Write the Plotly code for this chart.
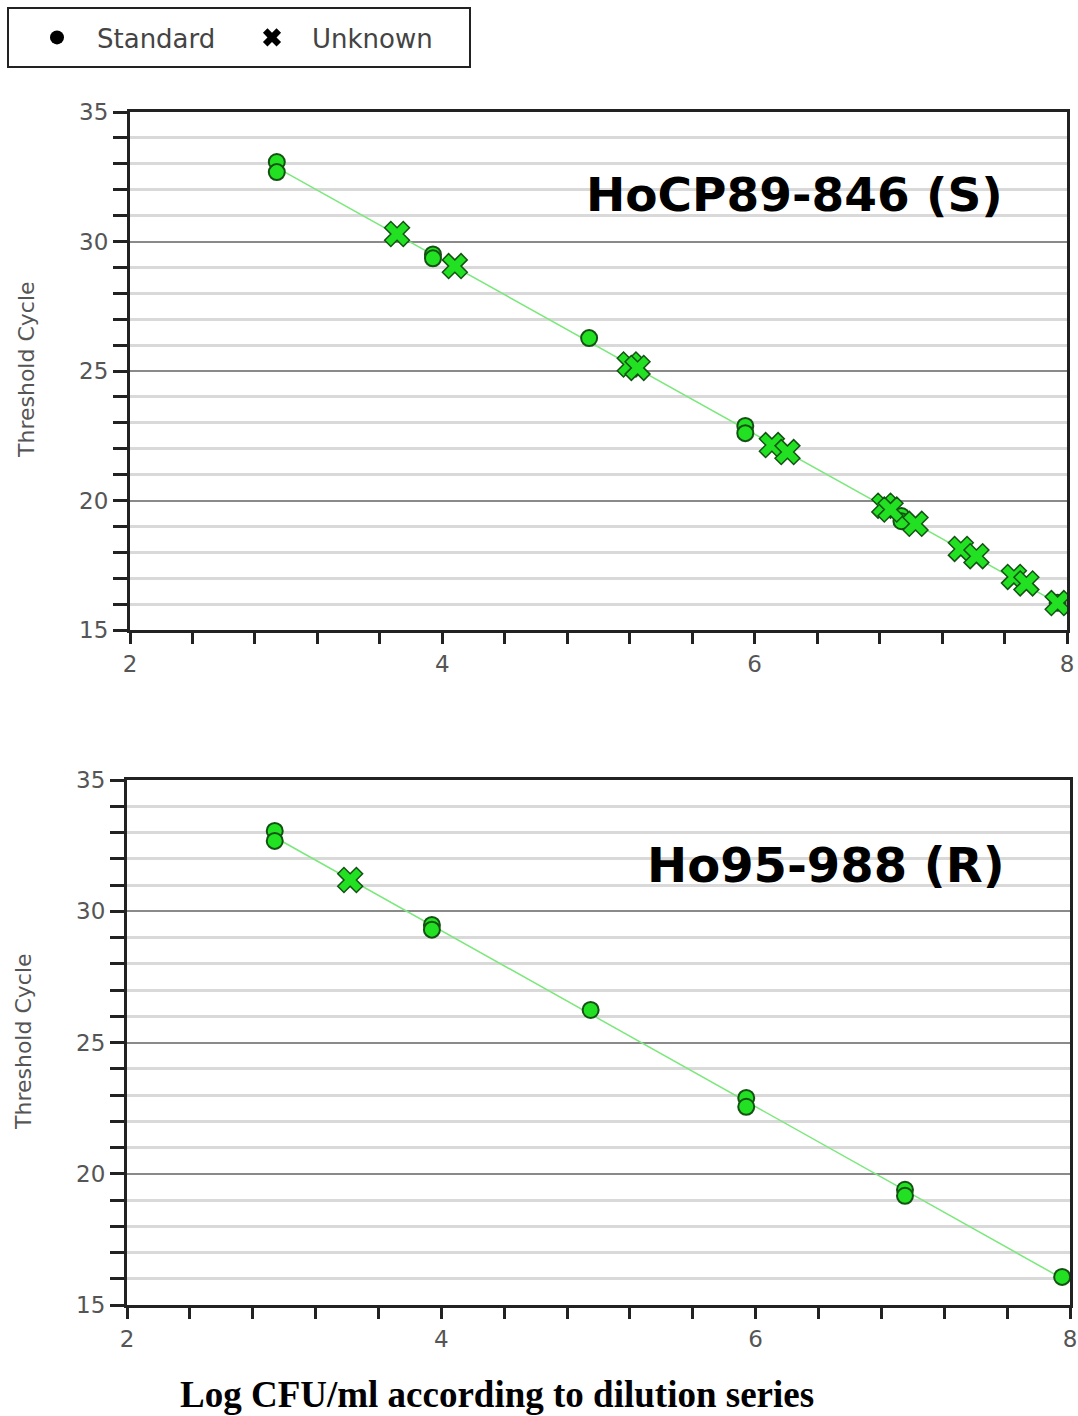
import plotly.graph_objects as go

# ---- data ----
top_std_x = [2.94, 2.94, 3.94, 3.94, 4.94, 5.94, 5.94, 6.94, 6.94, 7.94]
top_std_y = [33.07, 32.68, 29.50, 29.35, 26.27, 22.88, 22.60, 19.40, 19.20, 16.05]
top_unk_x = [3.71, 4.08, 5.20, 5.25, 6.11, 6.21, 6.83, 6.87, 7.03, 7.32, 7.42, 7.66, 7.74, 7.94]
top_unk_y = [30.29, 29.05, 25.25, 25.12, 22.14, 21.87, 19.80, 19.65, 19.10, 18.13, 17.85, 17.05, 16.80, 16.04]
top_fit_x = [2.94, 7.96]
top_fit_y = [32.85, 15.97]

bot_std_x = [2.94, 2.94, 3.94, 3.94, 4.95, 5.94, 5.94, 6.95, 6.95, 7.95]
bot_std_y = [33.06, 32.68, 29.48, 29.30, 26.24, 22.89, 22.55, 19.39, 19.16, 16.07]
bot_unk_x = [3.42]
bot_unk_y = [31.19]
bot_fit_x = [2.94, 7.96]
bot_fit_y = [32.82, 15.98]

panel_labels = ["HoCP89-846 (S)", "Ho95-988 (R)"]
y_title = "Threshold Cycle"
x_title = "Log CFU/ml according to dilution series"
legend_names = ["Standard", "Unknown"]

W, H = 1078, 1416

fig = go.Figure()

fill = "#22e022"
edge = "#145214"
linec = "#7be87b"

def add_panel(xa, ya, fx, fy, sx, sy, ux, uy):
    fig.add_trace(go.Scatter(x=fx, y=fy, mode="lines", line=dict(color=linec, width=1.5),
                             xaxis=xa, yaxis=ya, showlegend=False, hoverinfo="skip"))
    fig.add_trace(go.Scatter(x=sx, y=sy, mode="markers",
                             marker=dict(symbol="circle", size=16, color=fill, line=dict(color=edge, width=2)),
                             xaxis=xa, yaxis=ya, showlegend=False))
    fig.add_trace(go.Scatter(x=ux, y=uy, mode="markers",
                             marker=dict(symbol="x", size=22, color=fill, line=dict(color=edge, width=1.5)),
                             xaxis=xa, yaxis=ya, showlegend=False))

add_panel("x", "y", top_fit_x, top_fit_y, top_std_x, top_std_y, top_unk_x, top_unk_y)
add_panel("x2", "y2", bot_fit_x, bot_fit_y, bot_std_x, bot_std_y, bot_unk_x, bot_unk_y)

# legend-only entries (black symbols)
fig.add_trace(go.Scatter(x=[None], y=[None], mode="markers", name=legend_names[0],
                         marker=dict(symbol="circle", size=14, color="black")))
fig.add_trace(go.Scatter(x=[None], y=[None], mode="markers", name=legend_names[1],
                         marker=dict(symbol="x", size=18, color="black")))

tickfont = dict(family="DejaVu Sans", size=23, color="#555555")

def xaxis_cfg(domain, anchor):
    return dict(domain=domain, anchor=anchor, range=[2, 8], dtick=2, tick0=2,
                ticks="outside", ticklen=11, tickwidth=3, tickcolor="#222",
                showline=True, linecolor="#222", linewidth=3, mirror=True,
                showgrid=False, zeroline=False, tickfont=tickfont, automargin=False,
                minor=dict(dtick=0.4, tick0=2, ticks="outside", ticklen=11, tickwidth=3,
                           tickcolor="#222", showgrid=False))

def yaxis_cfg(domain, anchor):
    return dict(domain=domain, anchor=anchor, range=[15, 35], dtick=5, tick0=15,
                ticks="outside", ticklen=14, tickwidth=3, tickcolor="#222",
                showline=True, linecolor="#222", linewidth=3, mirror=True,
                showgrid=True, gridcolor="#8a8a8a", gridwidth=2, zeroline=False,
                tickfont=tickfont, automargin=False,
                minor=dict(dtick=1, tick0=15, ticks="outside", ticklen=14, tickwidth=3,
                           tickcolor="#222", showgrid=True, gridcolor="#d9d9d9", gridwidth=3))

fig.update_layout(
    width=W, height=H,
    margin=dict(l=0, r=0, t=0, b=0),
    paper_bgcolor="white", plot_bgcolor="white",
    xaxis=xaxis_cfg([130 / W, 1067 / W], "y"),
    yaxis=yaxis_cfg([1 - 630 / H, 1 - 112 / H], "x"),
    xaxis2=xaxis_cfg([127 / W, 1070 / W], "y2"),
    yaxis2=yaxis_cfg([1 - 1305 / H, 1 - 780 / H], "x2"),
    showlegend=True,
    legend=dict(orientation="h", x=17 / W, y=1 - 14 / H, xanchor="left", yanchor="top",
                bgcolor="rgba(0,0,0,0)", borderwidth=0, itemwidth=70,
                font=dict(family="DejaVu Sans", size=26, color="#444444"),
                entrywidth=130, entrywidthmode="pixels", itemsizing="trace"),
    shapes=[dict(type="rect", xref="paper", yref="paper",
                 x0=8 / W, x1=470 / W, y0=1 - 67 / H, y1=1 - 8 / H,
                 line=dict(color="#222", width=2), fillcolor="rgba(0,0,0,0)", layer="above")],
    annotations=[
        dict(text=panel_labels[0], xref="x", yref="y", x=7.6, y=31.8, xanchor="right", yanchor="middle",
             showarrow=False, font=dict(family="DejaVu Sans", size=47, color="black", weight="bold")),
        dict(text=panel_labels[1], xref="x2", yref="y2", x=7.6, y=31.76, xanchor="right", yanchor="middle",
             showarrow=False, font=dict(family="DejaVu Sans", size=48, color="black", weight="bold")),
        dict(text=y_title, xref="paper", yref="paper", x=26 / W, y=1 - 370 / H, textangle=-90,
             xanchor="center", yanchor="middle",
             showarrow=False, font=dict(family="DejaVu Sans", size=22, color="#555555")),
        dict(text=y_title, xref="paper", yref="paper", x=23 / W, y=1 - 1042 / H, textangle=-90,
             xanchor="center", yanchor="middle",
             showarrow=False, font=dict(family="DejaVu Sans", size=22, color="#555555")),
        dict(text=x_title, xref="paper", yref="paper", x=497 / W, y=1 - 1394 / H, xanchor="center",
             yanchor="middle", showarrow=False,
             font=dict(family="Liberation Serif", size=37, color="black", weight="bold")),
    ],
)

fig.write_html("out.html")
